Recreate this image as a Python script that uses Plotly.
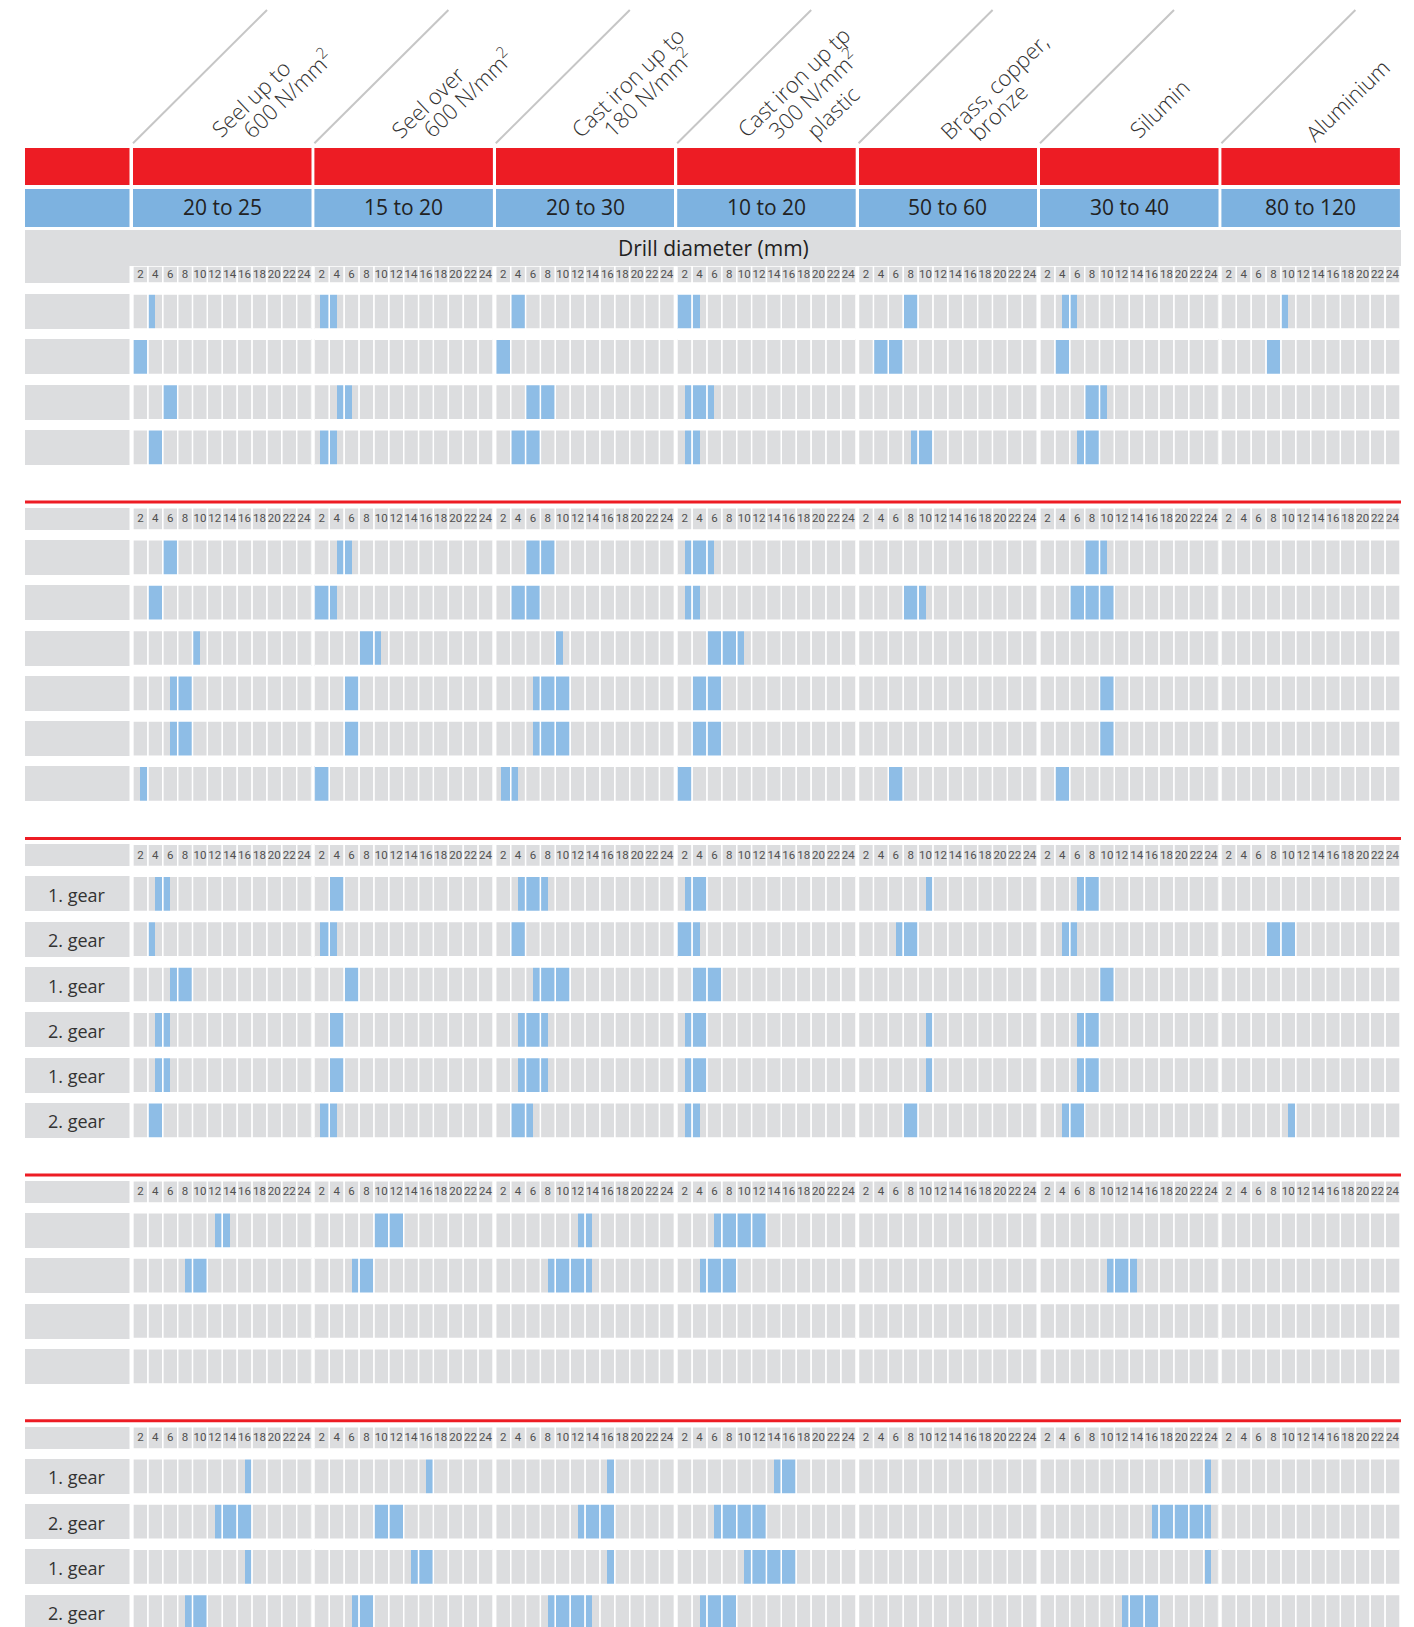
import plotly.graph_objects as go

W, H = 1414, 1627

# ---------------- data ----------------
material_lines = [
    ["Seel up to", "600 N/mm<sup>2</sup>"],
    ["Seel over", "600 N/mm<sup>2</sup>"],
    ["Cast iron up to", "180 N/mm<sup>2</sup>"],
    ["Cast iron up tp", "300 N/mm<sup>2</sup>", "plastic"],
    ["Brass, copper,", "bronze"],
    ["Silumin"],
    ["Aluminium"],
]
speed_ranges = ["20 to 25", "15 to 20", "20 to 30", "10 to 20", "50 to 60", "30 to 40", "80 to 120"]
diameter_ticks = [2, 4, 6, 8, 10, 12, 14, 16, 18, 20, 22, 24]
diameter_title = "Drill diameter (mm)"

section1_labels = ["", "", "", ""]
section1_ranges = [
    [(2, 3), (0.75, 3), (2, 4), (0, 3), (6, 8), (3, 5), (8, 9)],
    [(0, 2), None, (0, 2), None, (2, 6), (2, 4), (6, 8)],
    [(4, 6), (3, 5), (4, 8), (1, 5), None, (6, 9), None],
    [(2, 4), (0.75, 3), (2, 6), (1, 3), (7, 10), (5, 8), None],
]
section2_labels = ["", "", "", "", "", ""]
section2_ranges = [
    [(4, 6), (3, 5), (4, 8), (1, 5), None, (6, 9), None],
    [(2, 4), (0, 3), (2, 6), (1, 3), (6, 9), (4, 10), None],
    [(8, 9), (6, 9), (8, 9), (4, 9), None, None, None],
    [(5, 8), (4, 6), (5, 10), (2, 6), None, (8, 10), None],
    [(5, 8), (4, 6), (5, 10), (2, 6), None, (8, 10), None],
    [(1, 2), (0, 2), (0.75, 3), (0, 2), (4, 6), (2, 4), None],
]
section3_labels = ["1. gear", "2. gear", "1. gear", "2. gear", "1. gear", "2. gear"]
section3_ranges = [
    [(3, 5), (2, 4), (3, 7), (1, 4), (9, 10), (5, 8), None],
    [(2, 3), (0.75, 3), (2, 4), (0, 3), (5, 8), (3, 5), (6, 10)],
    [(5, 8), (4, 6), (5, 10), (2, 6), None, (8, 10), None],
    [(3, 5), (2, 4), (3, 7), (1, 4), (9, 10), (5, 8), None],
    [(3, 5), (2, 4), (3, 7), (1, 4), (9, 10), (5, 8), None],
    [(2, 4), (0.75, 3), (2, 5), (1, 3), (6, 8), (3, 6), (9, 10)],
]
section4_labels = ["", "", "", ""]
section4_ranges = [
    [(11, 13), (8, 12), (11, 13), (5, 12), None, None, None],
    [(7, 10), (5, 8), (7, 13), (3, 8), None, (9, 13), None],
    [None, None, None, None, None, None, None],
    [None, None, None, None, None, None, None],
]
section5_labels = ["1. gear", "2. gear", "1. gear", "2. gear"]
section5_ranges = [
    [(15, 16), (15, 16), (15, 16), (13, 16), None, (22.25, 23), None],
    [(11, 16), (8, 12), (11, 16), (5, 12), None, (15, 23), None],
    [(15, 16), (13, 16), (15, 16), (9, 16), None, (22.25, 23), None],
    [(7, 10), (5, 8), (7, 13), (3, 8), None, (11, 16), None],
]

# ---------------- styling / geometry ----------------
RED = "#ed1c24"
HEAD_BLUE = "#7db2e0"
BAR_BLUE = "#8ebde6"
GREY = "#dcdddf"
TXT = "#333333"
LINE_GREY = "#c6c6c6"
MAIN_FONT = "Open Sans, Lato, Liberation Sans, sans-serif"
TICK_FONT = "Roboto, Liberation Sans, sans-serif"

LABEL_X = (25, 129.5)
COL_X0, COL_STEP, COL_W = 133.0, 181.4, 178.5
FULL_X = (25, 1401)
RED_Y = (148, 185)
BLUE_Y = (189, 227)
BAND_Y = (230, 266)
TICK1_Y = (266, 283)
ROW0_TOP = 294
ROW_PITCH = 45.3
ROW_H = 35
RULE_GAP = 72
TICK_H = 22

HEADER_POS = [
    [(250.5, 98), (286.5, 93.5)],
    [(427, 101.7), (467, 92.5)],
    [(627, 81.5), (646.7, 92)],
    [(792.5, 81.5), (812, 93), (832, 112)],
    [(994, 86), (997.5, 111.7)],
    [(1159, 108)],
    [(1346.7, 99.7)],
]

sections = [
    (section1_labels, section1_ranges),
    (section2_labels, section2_ranges),
    (section3_labels, section3_ranges),
    (section4_labels, section4_ranges),
    (section5_labels, section5_ranges),
]

# ---------------- row layout ----------------
tick_rows = [TICK1_Y]
rows = []
rules = []
top = ROW0_TOP
last_top = None
for si, (labels, ranges) in enumerate(sections):
    if si > 0:
        rule = last_top + RULE_GAP
        rules.append(rule)
        tick_rows.append((rule + 6, rule + 6 + TICK_H))
        top = rule + 38
    for lab, rng in zip(labels, ranges):
        rows.append((top, lab, rng))
        last_top = top
        top += ROW_PITCH

n_mat = len(speed_ranges)
cell = diameter_ticks[1] - diameter_ticks[0]
xmax = diameter_ticks[-1]

fig = go.Figure()


def hbar(xaxis, ys, bases, lengths, widths, colors, line=None):
    fig.add_trace(go.Bar(
        orientation="h", xaxis=xaxis, yaxis="y",
        y=ys, x=lengths, base=bases, width=widths,
        marker=dict(color=colors, line=line or dict(width=0)),
        hoverinfo="skip", showlegend=False,
    ))


# full-width band (drill diameter title)
hbar("x9", [(BAND_Y[0] + BAND_Y[1]) / 2], [0], [1], [BAND_Y[1] - BAND_Y[0]], [GREY])

# label column
ys, bs, ls, ws, cs = [], [], [], [], []
for (y0, y1), c in [(RED_Y, RED), (BLUE_Y, HEAD_BLUE)]:
    ys.append((y0 + y1) / 2); bs.append(0); ls.append(1); ws.append(y1 - y0); cs.append(c)
for (y0, y1) in tick_rows:
    ys.append((y0 + y1) / 2); bs.append(0); ls.append(1); ws.append(y1 - y0); cs.append(GREY)
for (t, lab, rng) in rows:
    ys.append(t + ROW_H / 2); bs.append(0); ls.append(1); ws.append(ROW_H); cs.append(GREY)
hbar("x", ys, bs, ls, ws, cs)

# material columns
for i in range(n_mat):
    ax = f"x{i + 2}"
    ys, bs, ls, ws, cs = [], [], [], [], []
    for (y0, y1), c in [(RED_Y, RED), (BLUE_Y, HEAD_BLUE)]:
        ys.append((y0 + y1) / 2); bs.append(0); ls.append(xmax); ws.append(y1 - y0); cs.append(c)
    gy, gb, gw = [], [], []
    for (y0, y1) in tick_rows:
        for k in range(len(diameter_ticks)):
            gy.append((y0 + y1) / 2); gb.append(k * cell); gw.append(y1 - y0)
    for (t, lab, rng) in rows:
        for k in range(len(diameter_ticks)):
            gy.append(t + ROW_H / 2); gb.append(k * cell); gw.append(ROW_H)
    ys += gy; bs += gb; ls += [cell] * len(gy); ws += gw; cs += [GREY] * len(gy)
    hbar(ax, ys, bs, ls, ws, cs)

    # blue diameter ranges
    by, bb, bl = [], [], []
    for (t, lab, rng) in rows:
        r = rng[i]
        if r is not None:
            by.append(t + ROW_H / 2); bb.append(r[0]); bl.append(r[1] - r[0])
    if by:
        hbar(ax, by, bb, bl, [ROW_H] * len(by), [BAR_BLUE] * len(by))

    # white cell dividers on top
    hbar(ax, gy, gb, [cell] * len(gy), gw, ["rgba(0,0,0,0)"] * len(gy),
         line=dict(color="white", width=1.3))

    # tick labels
    tx, tyy, tt = [], [], []
    for (y0, y1) in tick_rows:
        for k, v in enumerate(diameter_ticks):
            tx.append(k * cell + cell / 2); tyy.append((y0 + y1) / 2 + 0.5); tt.append(str(v))
    fig.add_trace(go.Scatter(
        x=tx, y=tyy, text=tt, mode="text", xaxis=ax, yaxis="y",
        textfont=dict(family=TICK_FONT, size=11.5, color="#505050", weight=400),
        hoverinfo="skip", showlegend=False,
    ))

# red section rules
for r in rules:
    fig.add_trace(go.Scatter(
        x=[0, 1], y=[r, r], mode="lines", xaxis="x9", yaxis="y",
        line=dict(color=RED, width=3), hoverinfo="skip", showlegend=False,
    ))

annotations = []
shapes = []
# rotated material headers + diagonal guide lines
for i in range(n_mat):
    s = COL_X0 + i * COL_STEP
    shapes.append(dict(type="line", xref="paper", yref="paper",
                       x0=s / W, y0=1 - 143.3 / H, x1=(s + 134) / W, y1=1 - 10 / H,
                       line=dict(color=LINE_GREY, width=2)))
    for txt, (cx, cy) in zip(material_lines[i], HEADER_POS[i]):
        annotations.append(dict(
            text=txt, xref="paper", yref="paper", x=cx / W, y=1 - cy / H,
            xanchor="center", yanchor="middle", textangle=-44, showarrow=False,
            font=dict(family=MAIN_FONT, size=22, color=TXT, weight=300),
        ))
    annotations.append(dict(
        text=speed_ranges[i], xref=f"x{i + 2}", yref="y", x=xmax / 2,
        y=(BLUE_Y[0] + BLUE_Y[1]) / 2 - 1, xanchor="center", yanchor="middle", showarrow=False,
        font=dict(family=MAIN_FONT, size=21, color="#222222"),
    ))

annotations.append(dict(
    text=diameter_title, xref="x9", yref="y", x=0.5, y=248,
    xanchor="center", yanchor="middle", showarrow=False,
    font=dict(family=MAIN_FONT, size=21, color="#222222"),
))

for (t, lab, rng) in rows:
    if lab:
        annotations.append(dict(
            text=lab, xref="x", yref="y", x=0.5, y=t + ROW_H / 2 + 1,
            xanchor="center", yanchor="middle", showarrow=False,
            font=dict(family=MAIN_FONT, size=18, color=TXT),
        ))

layout = dict(
    width=W, height=H,
    margin=dict(l=0, r=0, t=0, b=0, pad=0),
    paper_bgcolor="white", plot_bgcolor="rgba(0,0,0,0)",
    barmode="overlay", bargap=0,
    showlegend=False,
    annotations=annotations, shapes=shapes,
    yaxis=dict(domain=[0, 1], range=[H, 0], visible=False, fixedrange=True, anchor="x"),
    xaxis=dict(domain=[LABEL_X[0] / W, LABEL_X[1] / W], range=[0, 1], visible=False,
               fixedrange=True, anchor="y"),
    xaxis9=dict(domain=[FULL_X[0] / W, FULL_X[1] / W], range=[0, 1], visible=False,
                fixedrange=True, anchor="y"),
)
for i in range(n_mat):
    s = COL_X0 + i * COL_STEP
    layout[f"xaxis{i + 2}"] = dict(domain=[s / W, (s + COL_W) / W], range=[0, xmax],
                                   visible=False, fixedrange=True, anchor="y")
fig.update_layout(**layout)

fig.write_html(
    "out.html",
    config=dict(displayModeBar=False, staticPlot=True),
    post_script="document.body.style.margin='0';document.body.style.overflow='hidden';",
)
